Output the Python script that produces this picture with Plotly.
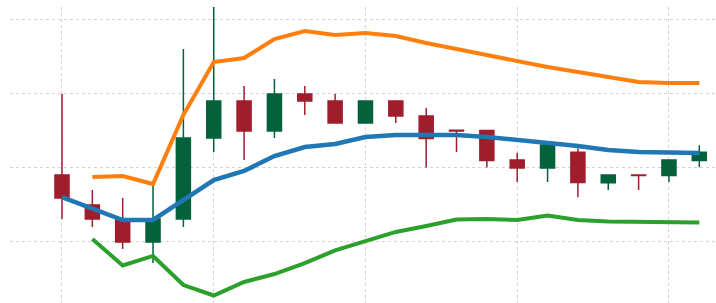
import plotly.graph_objects as go

x = list(range(1, 23))
open_ = [109.01, 104.98, 102.96, 100.00, 103.09, 113.99, 118.97, 114.93, 119.91, 118.97, 116.01,
         118.97, 116.95, 115.03, 115.00, 111.03, 109.96, 112.07, 107.98, 109.01, 108.95, 110.96]
high = [119.91, 107.00, 105.92, 107.67, 125.97, 132.00, 120.99, 121.93, 120.99, 119.91, 118.97,
        118.97, 118.03, 115.07, 115.00, 112.01, 113.05, 112.61, 109.01, 109.01, 111.03, 113.01]
low = [103.09, 102.02, 99.06, 97.17, 102.02, 112.11, 111.03, 113.99, 117.09, 116.01, 116.01,
       116.01, 110.02, 112.11, 110.02, 108.07, 108.07, 106.01, 107.00, 107.00, 108.07, 110.05]
close = [105.92, 103.09, 100.00, 103.09, 113.99, 118.97, 114.93, 119.91, 118.97, 116.01, 118.97,
         116.95, 113.92, 114.93, 110.96, 109.96, 113.05, 108.00, 109.01, 108.95, 111.03, 112.07]

middle = [106.05, 104.57, 102.96, 102.96, 105.65, 108.34, 109.55, 111.57, 112.78, 113.18, 114.13,
          114.40, 114.40, 114.40, 114.13, 113.72, 113.45, 112.92, 112.38, 112.11, 112.04, 111.97]
upper = [None, 108.74, 108.88, 107.80, 117.09, 124.22, 124.75, 127.31, 128.39, 127.85, 128.12,
         127.71, 126.77, 125.97, 125.16, 124.35, 123.54, 122.87, 122.20, 121.53, 121.39, 121.39]
lower = [None, 100.40, 96.84, 98.12, 94.21, 92.80, 94.62, 95.69, 97.17, 98.86, 100.13,
         101.35, 102.15, 103.03, 103.09, 102.96, 103.57, 102.96, 102.76, 102.69, 102.62, 102.62]

GREEN = "#03623b"
RED = "#a01d2c"

fig = go.Figure()
fig.add_trace(go.Candlestick(
    x=x, open=open_, high=high, low=low, close=close,
    increasing=dict(line=dict(color=GREEN, width=1.5), fillcolor=GREEN),
    decreasing=dict(line=dict(color=RED, width=1.5), fillcolor=RED),
    showlegend=False,
))
fig.add_trace(go.Scatter(x=x, y=upper, mode="lines", line=dict(color="#ff7f0e", width=4), showlegend=False))
fig.add_trace(go.Scatter(x=x, y=lower, mode="lines", line=dict(color="#2ca02c", width=4), showlegend=False))
fig.add_trace(go.Scatter(x=x, y=middle, mode="lines", line=dict(color="#1f77b4", width=4.5), showlegend=False))

fig.update_layout(
    width=716, height=303,
    margin=dict(l=10, r=0, t=7, b=0),
    paper_bgcolor="white", plot_bgcolor="white",
    boxgap=0.34,
    showlegend=False,
    xaxis=dict(range=[-0.713, 22.55], tick0=1, dtick=5, showgrid=True, gridcolor="#d3d3d3",
               griddash="dot", gridwidth=1, showticklabels=False, zeroline=False,
               rangeslider=dict(visible=False), showline=False, ticks=""),
    yaxis=dict(range=[91.79, 131.62], tick0=100, dtick=10, showgrid=True, gridcolor="#d3d3d3",
               griddash="dot", gridwidth=1, showticklabels=False, zeroline=False,
               showline=False, ticks=""),
)

fig.write_html("out.html", config={"displayModeBar": False},
               post_script="document.body.style.margin='0px';document.body.style.overflow='hidden';")
